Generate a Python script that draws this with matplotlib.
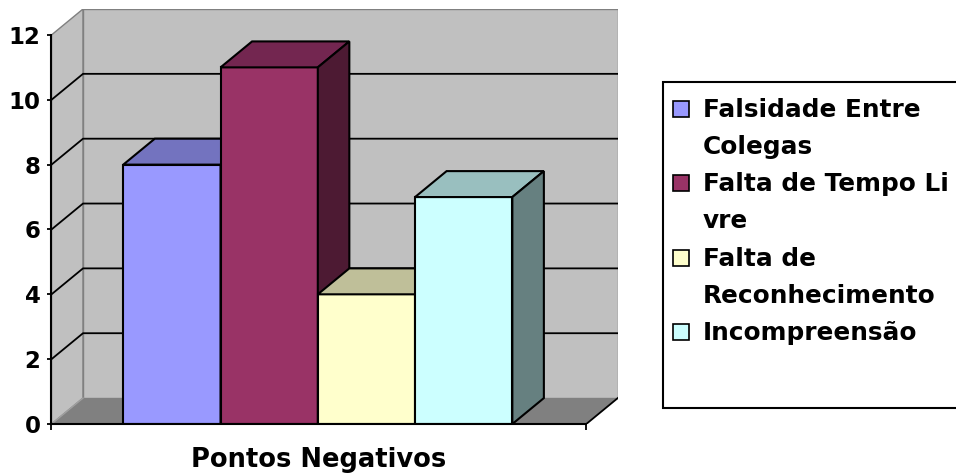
import matplotlib
matplotlib.use("Agg")
import matplotlib.pyplot as plt
from matplotlib.patches import Polygon, Rectangle

# data
categories = ["Falsidade Entre\nColegas", "Falta de Tempo Li\nvre",
              "Falta de\nReconhecimento", "Incompreensão"]
values = [8, 11, 4, 7]
front_colors = ["#9999FF", "#993366", "#FFFFCC", "#CCFFFF"]
top_colors = ["#7373BF", "#732650", "#BFBF99", "#99BFBF"]
side_colors = ["#4D4D80", "#4D1A33", "#808066", "#668080"]
yticks = [0, 2, 4, 6, 8, 10, 12]
xlabel = "Pontos Negativos"

plt.rcParams['font.family'] = ['DejaVu Sans']
plt.rcParams['font.weight'] = 'bold'

W, H = 956, 473
fig = plt.figure(figsize=(W / 100, H / 100), dpi=100)

# fake 3d geometry (in data units: 1 x-unit = one bar width)
x0, x1 = -0.738, 4.76     # front floor left/right
dx, dy = 0.324, 0.8       # depth offset
ymax = 12.8

ax = fig.add_axes([51.5 / W, (H - 424) / H, (617.8 - 51.5) / W, 415 / H])
ax.set_xlim(x0, x1 + dx)
ax.set_ylim(0, ymax)
ax.set_facecolor("none")

# walls and floor
side = Polygon([(x0, 0), (x0, 12), (x0 + dx, 12 + dy), (x0 + dx, dy)],
               facecolor="#C0C0C0", edgecolor="#808080", lw=1, zorder=1)
back = Polygon([(x0 + dx, dy), (x0 + dx, 12 + dy), (x1 + dx, 12 + dy), (x1 + dx, dy)],
               facecolor="#C0C0C0", edgecolor="#808080", lw=1, zorder=1)
floor = Polygon([(x0, 0), (x1, 0), (x1 + dx, dy), (x0 + dx, dy)],
                facecolor="#808080", edgecolor="none", zorder=1)
for p in (side, back, floor):
    ax.add_patch(p)
ax.plot([x1, x1 + dx], [0, dy], color="black", lw=1.3, zorder=2)
ax.plot([x0, x0 + dx], [0, dy], color="#A0A0A0", lw=1, zorder=2)

# gridlines on side and back walls
for v in yticks[1:-1]:
    ax.plot([x0, x0 + dx, x1 + dx], [v, v + dy, v + dy], color="black", lw=1.3, zorder=2)

# bars, left to right so that the later ones cover the earlier sides
for i, v in enumerate(values):
    z = 3 + i
    ax.bar(i, v, width=1, align="edge", color=front_colors[i],
           edgecolor="black", lw=1.5, zorder=z)
    top = Polygon([(i, v), (i + 1, v), (i + 1 + dx, v + dy), (i + dx, v + dy)],
                  facecolor=top_colors[i], edgecolor="black", lw=1.5, zorder=z)
    sd = Polygon([(i + 1, 0), (i + 1, v), (i + 1 + dx, v + dy), (i + 1 + dx, dy)],
                 facecolor=side_colors[i], edgecolor="black", lw=1.5, zorder=z)
    ax.add_patch(top)
    ax.add_patch(sd)

# axes
for s in ("top", "right"):
    ax.spines[s].set_visible(False)
ax.spines["left"].set_position(("data", x0))
ax.spines["left"].set_bounds(0, 12)
ax.spines["bottom"].set_bounds(x0, x1)
for s in ("left", "bottom"):
    ax.spines[s].set_linewidth(1.5)
    ax.spines[s].set_zorder(20)
ax.set_yticks(yticks)
ax.set_yticklabels([str(t) for t in yticks], fontsize=16.5, fontweight="bold")
ax.tick_params(axis="y", length=3, width=1.3, pad=5)
ax.set_xticks([x0, x1])
ax.set_xticklabels(["", ""])
ax.tick_params(axis="x", length=4, width=1.3)
ax.text((x0 + x1) / 2, -1.32, xlabel, ha="center", va="baseline",
        fontsize=18.5, fontweight="bold", clip_on=False)

# legend box drawn like the excel one (runs off the right edge)
fig.add_artist(Rectangle((662.7 / W, 1 - 408 / H), (962 - 662.7) / W, (408 - 82) / H,
                         transform=fig.transFigure, facecolor="white",
                         edgecolor="black", lw=1.5))
line_h = 37.2
base = 116.7
k = 0
for i, lab in enumerate(categories):
    fig.add_artist(Rectangle((673 / W, 1 - (base + k * line_h) / H),
                             16 / W, 16 / H, transform=fig.transFigure,
                             facecolor=front_colors[i], edgecolor="black", lw=1.2))
    for line in lab.split("\n"):
        fig.text(703 / W, 1 - (base + k * line_h) / H, line, ha="left",
                 va="baseline", fontsize=17.8, fontweight="bold")
        k += 1

fig.savefig("out.png", dpi=100)
